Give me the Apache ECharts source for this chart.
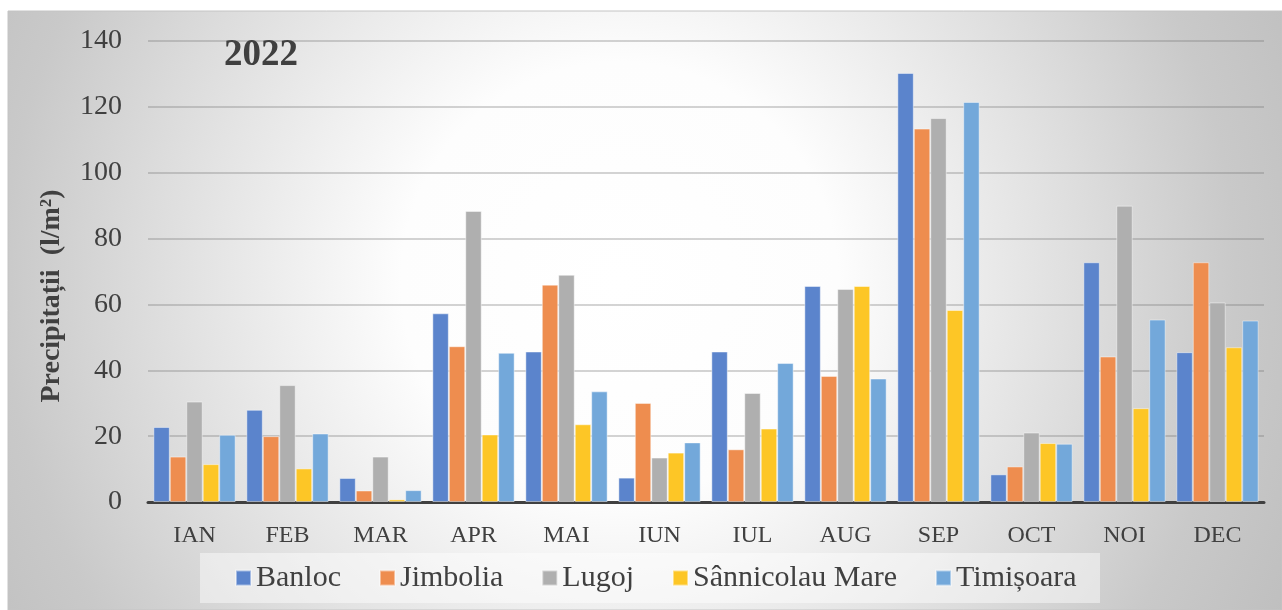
<!DOCTYPE html>
<html>
<head>
<meta charset="utf-8">
<script src="https://cdn.jsdelivr.net/npm/echarts@6/dist/echarts.min.js"></script>
<style>
html,body{margin:0;padding:0;background:#fff;}
#chart{width:1282px;height:610px;}
</style>
</head>
<body>
<div id="chart"></div>
<script>
const months = ['IAN','FEB','MAR','APR','MAI','IUN','IUL','AUG','SEP','OCT','NOI','DEC'];
const seriesNames = ['Banloc','Jimbolia','Lugoj','Sânnicolau Mare','Timișoara'];
const banloc     = [22.8, 28.0, 7.3, 57.3, 45.7, 7.4, 45.7, 65.6, 130.3, 8.4, 72.8, 45.5];
const jimbolia   = [13.8, 20.0, 3.5, 47.3, 66.0, 30.1, 16.0, 38.3, 113.4, 10.8, 44.2, 72.8];
const lugoj      = [30.5, 35.5, 13.8, 88.4, 69.0, 13.5, 33.1, 64.7, 116.6, 21.1, 90.0, 60.6];
const sannicolau = [11.5, 10.2, 0.8, 20.5, 23.6, 15.0, 22.3, 65.6, 58.3, 17.9, 28.5, 47.0];
const timisoara  = [20.4, 20.8, 3.6, 45.3, 33.6, 18.1, 42.2, 37.5, 121.5, 17.7, 55.4, 55.1];
const yTicks = [0, 20, 40, 60, 80, 100, 120, 140];
const titleText = '2022';
const yAxisTitle = 'Precipitații  (l/m²)';

const colors = ['#5b84cc','#ee8d4f','#afafaf','#fdc626','#73a8da'];
const allData = [banloc, jimbolia, lugoj, sannicolau, timisoara];

const chart = echarts.init(document.getElementById('chart'), null, {renderer:'canvas'});
const serif = '"Liberation Serif", "DejaVu Serif", serif';

const option = {
  animation: false,
  color: colors,
  title: {
    text: titleText,
    left: 224, top: 37, padding: 0,
    textStyle: {fontFamily: serif, fontWeight: 'bold', fontSize: 37, color: '#404040'}
  },
  graphic: [
    {
      type: 'rect', z: -100, silent: true,
      shape: {x: 8, y: 11, width: 1274, height: 599},
      style: {
        fill: {
          type: 'radial', x: 0.48, y: 0.45, r: 1.3,
          colorStops: [
            {offset: 0, color: '#ffffff'},
            {offset: 0.28, color: '#fdfdfd'},
            {offset: 0.45, color: '#ececec'},
            {offset: 0.61, color: '#dcdcdc'},
            {offset: 0.79, color: '#c9c9c9'},
            {offset: 1, color: '#bcbcbc'}
          ]
        },
        stroke: '#c4c4c4', lineWidth: 1
      }
    },
    {
      type: 'rect', z: -90, silent: true,
      shape: {x: 200, y: 553, width: 900, height: 50},
      style: {fill: 'rgba(255,255,255,0.45)'}
    },
    {
      type: 'text', z: 10, silent: true,
      x: 52, y: 296, rotation: Math.PI / 2,
      style: {
        text: yAxisTitle, fontFamily: serif, fontWeight: 'bold', fontSize: 28,
        fill: '#404040', align: 'center', verticalAlign: 'middle'
      }
    }
  ],
  legend: {
    data: seriesNames,
    left: 235, top: 563, padding: 0,
    itemWidth: 15, itemHeight: 15, itemGap: 38,
    icon: 'rect',
    textStyle: {fontFamily: serif, fontSize: 30, color: '#404040', padding: [0,0,0,0]}
  },
  grid: {left: 148, right: 18, top: 41, bottom: 108},
  xAxis: {
    type: 'category',
    data: months,
    axisLine: {show: true, lineStyle: {color: '#404040', width: 3}},
    axisTick: {show: false},
    axisLabel: {fontFamily: serif, fontSize: 24, color: '#404040', margin: 22}
  },
  yAxis: {
    type: 'value',
    min: 0, max: 140, interval: 20,
    axisLine: {show: false},
    axisTick: {show: false},
    axisLabel: {fontFamily: serif, fontSize: 28, color: '#404040', margin: 26,
      formatter: v => yTicks.includes(v) ? String(v) : ''},
    splitLine: {lineStyle: {color: 'rgba(110,110,110,0.4)', width: 1.5}}
  },
  series: seriesNames.map((name, i) => ({
    name: name,
    type: 'bar',
    data: allData[i],
    barGap: '0%',
    barCategoryGap: '11.5%',
    itemStyle: {color: colors[i], borderColor: 'rgba(255,255,255,0.45)', borderWidth: 1}
  }))
};
chart.setOption(option);
</script>
</body>
</html>
